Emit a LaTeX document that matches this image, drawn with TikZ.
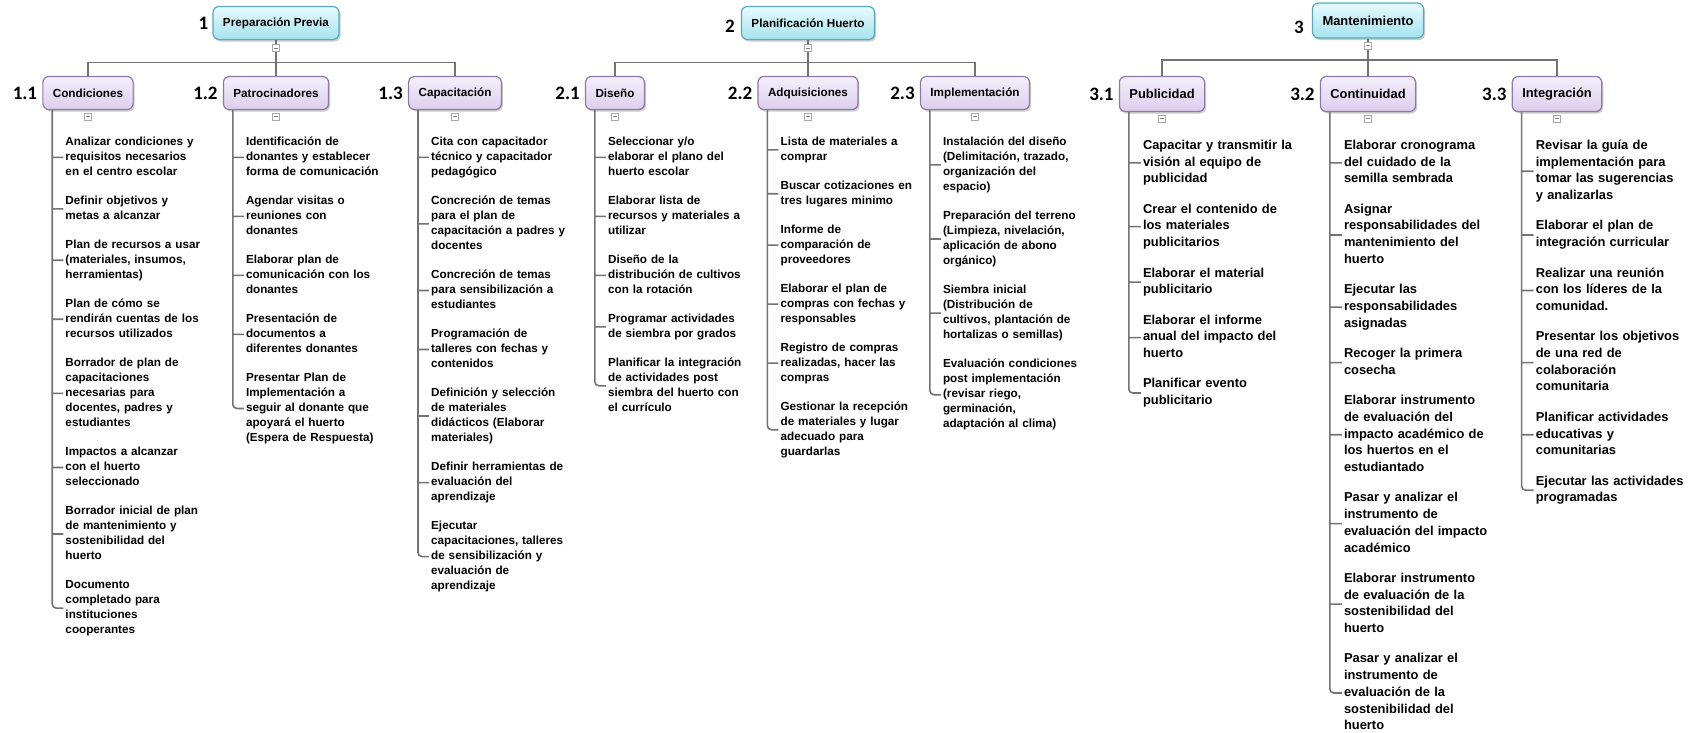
\documentclass[tikz,border=0pt]{standalone}
\usepackage{fontspec}
\setmainfont{Liberation Sans}
\newfontfamily\wbsnumfamily{Carlito}
\usetikzlibrary{positioning,shadows}
\usepackage{xcolor}

\definecolor{headtop}{HTML}{E6FAFD}
\definecolor{headbot}{HTML}{A6E4EF}
\definecolor{headline}{HTML}{5AAABA}
\definecolor{subtop}{HTML}{F5EFFB}
\definecolor{subbot}{HTML}{DCCEEE}
\definecolor{subline}{HTML}{8C7AA7}
\definecolor{linkgray}{HTML}{737373}

\newcommand\wbsbox{\fontsize{11.7}{14}\selectfont\bfseries}
\newcommand\wbsboxb{\fontsize{12.9}{15.5}\selectfont\bfseries}
\newcommand\wbsitem{\fontsize{11.7}{15.1}\selectfont\bfseries}
\newcommand\wbsitemb{\fontsize{12.9}{16.7}\selectfont\bfseries}
\newcommand\wbsnum{\wbsnumfamily\fontsize{19}{22}\selectfont\bfseries}

\begin{document}
\begin{tikzpicture}[
    x=1pt, y=-1pt,
    node distance=13.3pt,
    head/.style={
        draw=headline, line width=1.2pt, rounded corners=6pt,
        top color=headtop, bottom color=headbot, minimum height=33pt,
        inner xsep=10pt, font=\wbsbox,
        drop shadow={shadow xshift=1.5pt, shadow yshift=-2pt, fill=black!40}
    },
    sub/.style={head, draw=subline, top color=subtop, bottom color=subbot},
    subb/.style={sub, font=\wbsboxb, minimum height=35pt},
    item/.style={
        font=\wbsitem, text width=172pt, align=left,
        inner xsep=2pt, inner ysep=0pt,
        execute at begin node=\strut, execute at end node=\strut
    },
    itemb/.style={item, font=\wbsitemb},
    num/.style={font=\wbsnum, inner sep=0pt},
    toggle/.style={
        draw=gray!70, fill=white, minimum size=7pt, inner sep=0pt,
        path picture={\draw[gray] ([xshift=-2pt]path picture bounding box.center)
            -- ([xshift=2pt]path picture bounding box.center);}
    },
    link/.style={draw=linkgray, line width=1.6pt}
]
\useasboundingbox[fill=white] (0,0) rectangle (1689,732);

\node[head] (prep) at (276,23) {Preparación Previa};
\node[head] (plan) at (808,23) {Planificación Huerto};
\node[head, font=\wbsboxb, minimum height=35pt] (mant) at (1368,20.5) {Mantenimiento};
\node[num, left=4pt of prep] (nprep) {1};
\node[num, left=6pt of plan, yshift=-3pt] (nplan) {2};
\node[num, left=8pt of mant, yshift=-7pt] (nmant) {3};

\node[sub] (cond) at (88,93) {Condiciones};
\node[sub] (patr) at (276,93) {Patrocinadores};
\node[sub] (capa) at (455,93) {Capacitación};
\node[sub] (dise) at (615,93) {Diseño};
\node[sub] (adq) at (808,93) {Adquisiciones};
\node[sub] (impl) at (975,93) {Implementación};
\node[subb] (publ) at (1162,94) {Publicidad};
\node[subb] (cont) at (1368,94) {Continuidad};
\node[subb] (integ) at (1557,94) {Integración};
\node[num, left=5pt of cond] (ncond) {1.1};
\node[num, left=5pt of patr] (npatr) {1.2};
\node[num, left=5pt of capa] (ncapa) {1.3};
\node[num, left=5pt of dise] (ndise) {2.1};
\node[num, left=5pt of adq] (nadq) {2.2};
\node[num, left=5pt of impl] (nimpl) {2.3};
\node[num, left=5pt of publ] (npubl) {3.1};
\node[num, left=5pt of cont] (ncont) {3.2};
\node[num, left=5pt of integ] (ninteg) {3.3};

\node[item, anchor=north west] (cond1) at ([xshift=21pt, yshift=-24.4pt]cond.south west)
    {Analizar condiciones y\\requisitos necesarios\\en el centro escolar};
\node[item, below=of cond1] (cond2) {Definir objetivos y\\metas a alcanzar};
\node[item, below=of cond2] (cond3) {Plan de recursos a usar\\(materiales, insumos,\\herramientas)};
\node[item, below=of cond3] (cond4) {Plan de cómo se\\rendirán cuentas de los\\recursos utilizados};
\node[item, below=of cond4] (cond5) {Borrador de plan de\\capacitaciones\\necesarias para\\docentes, padres y\\estudiantes};
\node[item, below=of cond5] (cond6) {Impactos a alcanzar\\con el huerto\\seleccionado};
\node[item, below=of cond6] (cond7) {Borrador inicial de plan\\de mantenimiento y\\sostenibilidad del\\huerto};
\node[item, below=of cond7] (cond8) {Documento\\completado para\\instituciones\\cooperantes};

\node[item, anchor=north west] (patr1) at ([xshift=21pt, yshift=-24.4pt]patr.south west)
    {Identificación de\\donantes y establecer\\forma de comunicación};
\node[item, below=of patr1] (patr2) {Agendar visitas o\\reuniones con\\donantes};
\node[item, below=of patr2] (patr3) {Elaborar plan de\\comunicación con los\\donantes};
\node[item, below=of patr3] (patr4) {Presentación de\\documentos a\\diferentes donantes};
\node[item, below=of patr4] (patr5) {Presentar Plan de\\Implementación a\\seguir al donante que\\apoyará el huerto\\(Espera de Respuesta)};

\node[item, anchor=north west] (capa1) at ([xshift=21pt, yshift=-24.4pt]capa.south west)
    {Cita con capacitador\\técnico y capacitador\\pedagógico};
\node[item, below=of capa1] (capa2) {Concreción de temas\\para el plan de\\capacitación a padres y\\docentes};
\node[item, below=of capa2] (capa3) {Concreción de temas\\para sensibilización a\\estudiantes};
\node[item, below=of capa3] (capa4) {Programación de\\talleres con fechas y\\contenidos};
\node[item, below=of capa4] (capa5) {Definición y selección\\de materiales\\didácticos (Elaborar\\materiales)};
\node[item, below=of capa5] (capa6) {Definir herramientas de\\evaluación del\\aprendizaje};
\node[item, below=of capa6] (capa7) {Ejecutar\\capacitaciones, talleres\\de sensibilización y\\evaluación de\\aprendizaje};

\node[item, anchor=north west] (dise1) at ([xshift=21pt, yshift=-24.4pt]dise.south west)
    {Seleccionar y/o\\elaborar el plano del\\huerto escolar};
\node[item, below=of dise1] (dise2) {Elaborar lista de\\recursos y materiales a\\utilizar};
\node[item, below=of dise2] (dise3) {Diseño de la\\distribución de cultivos\\con la rotación};
\node[item, below=of dise3] (dise4) {Programar actividades\\de siembra por grados};
\node[item, below=of dise4] (dise5) {Planificar la integración\\de actividades post\\siembra del huerto con\\el currículo};

\node[item, anchor=north west] (adq1) at ([xshift=21pt, yshift=-24.4pt]adq.south west)
    {Lista de materiales a\\comprar};
\node[item, below=of adq1] (adq2) {Buscar cotizaciones en\\tres lugares minimo};
\node[item, below=of adq2] (adq3) {Informe de\\comparación de\\proveedores};
\node[item, below=of adq3] (adq4) {Elaborar el plan de\\compras con fechas y\\responsables};
\node[item, below=of adq4] (adq5) {Registro de compras\\realizadas, hacer las\\compras};
\node[item, below=of adq5] (adq6) {Gestionar la recepción\\de materiales y lugar\\adecuado para\\guardarlas};

\node[item, anchor=north west] (impl1) at ([xshift=21pt, yshift=-24.4pt]impl.south west)
    {Instalación del diseño\\(Delimitación, trazado,\\organización del\\espacio)};
\node[item, below=of impl1] (impl2) {Preparación del terreno\\(Limpieza, nivelación,\\aplicación de abono\\orgánico)};
\node[item, below=of impl2] (impl3) {Siembra inicial\\(Distribución de\\cultivos, plantación de\\hortalizas o semillas)};
\node[item, below=of impl3] (impl4) {Evaluación condiciones\\post implementación\\(revisar riego,\\germinación,\\adaptación al clima)};

\node[itemb, anchor=north west] (publ1) at ([xshift=22pt, yshift=-25.5pt]publ.south west)
    {Capacitar y transmitir la\\visión al equipo de\\publicidad};
\node[itemb, below=of publ1] (publ2) {Crear el contenido de\\los materiales\\publicitarios};
\node[itemb, below=of publ2] (publ3) {Elaborar el material\\publicitario};
\node[itemb, below=of publ3] (publ4) {Elaborar el informe\\anual del impacto del\\huerto};
\node[itemb, below=of publ4] (publ5) {Planificar evento\\publicitario};

\node[itemb, anchor=north west] (cont1) at ([xshift=22pt, yshift=-25.5pt]cont.south west)
    {Elaborar cronograma\\del cuidado de la\\semilla sembrada};
\node[itemb, below=of cont1] (cont2) {Asignar\\responsabilidades del\\mantenimiento del\\huerto};
\node[itemb, below=of cont2] (cont3) {Ejecutar las\\responsabilidades\\asignadas};
\node[itemb, below=of cont3] (cont4) {Recoger la primera\\cosecha};
\node[itemb, below=of cont4] (cont5) {Elaborar instrumento\\de evaluación del\\impacto académico de\\los huertos en el\\estudiantado};
\node[itemb, below=of cont5] (cont6) {Pasar y analizar el\\instrumento de\\evaluación del impacto\\académico};
\node[itemb, below=of cont6] (cont7) {Elaborar instrumento\\de evaluación de la\\sostenibilidad del\\huerto};
\node[itemb, below=of cont7] (cont8) {Pasar y analizar el\\instrumento de\\evaluación de la\\sostenibilidad del\\huerto};

\node[itemb, anchor=north west] (integ1) at ([xshift=22pt, yshift=-25.5pt]integ.south west)
    {Revisar la guía de\\implementación para\\tomar las sugerencias\\y analizarlas};
\node[itemb, below=of integ1] (integ2) {Elaborar el plan de\\integración curricular};
\node[itemb, below=of integ2] (integ3) {Realizar una reunión\\con los líderes de la\\comunidad.};
\node[itemb, below=of integ3] (integ4) {Presentar los objetivos\\de una red de\\colaboración\\comunitaria};
\node[itemb, below=of integ4] (integ5) {Planificar actividades\\educativas y\\comunitarias};
\node[itemb, below=of integ5] (integ6) {Ejecutar las actividades\\programadas};

\coordinate (bar1) at (276,62.5);
\coordinate (bar2) at (808,62.5);
\coordinate (bar3) at (1368,60);
\draw[link] (prep) -- (patr);
\draw[link] (cond) |- (bar1) -| (capa);
\draw[link] (plan) -- (adq);
\draw[link] (dise) |- (bar2) -| (impl);
\draw[link] (mant) -- (cont);
\draw[link] (publ) |- (bar3) -| (integ);

\coordinate (cond0) at ([xshift=10pt]cond.south west);
\coordinate (patr0) at ([xshift=10pt]patr.south west);
\coordinate (capa0) at ([xshift=10pt]capa.south west);
\coordinate (dise0) at ([xshift=10pt]dise.south west);
\coordinate (adq0) at ([xshift=10pt]adq.south west);
\coordinate (impl0) at ([xshift=10pt]impl.south west);
\coordinate (publ0) at ([xshift=10pt]publ.south west);
\coordinate (cont0) at ([xshift=10pt]cont.south west);
\coordinate (integ0) at ([xshift=10pt]integ.south west);

\draw[link] (cond0) |- (cond1) (cond0) |- (cond2) (cond0) |- (cond3) (cond0) |- (cond4)
    (cond0) |- (cond5) (cond0) |- (cond6) (cond0) |- (cond7)
    [rounded corners=4pt] (cond0) |- (cond8);
\draw[link] (patr0) |- (patr1) (patr0) |- (patr2) (patr0) |- (patr3) (patr0) |- (patr4)
    [rounded corners=4pt] (patr0) |- (patr5);
\draw[link] (capa0) |- (capa1) (capa0) |- (capa2) (capa0) |- (capa3) (capa0) |- (capa4)
    (capa0) |- (capa5) (capa0) |- (capa6)
    [rounded corners=4pt] (capa0) |- (capa7);
\draw[link] (dise0) |- (dise1) (dise0) |- (dise2) (dise0) |- (dise3) (dise0) |- (dise4)
    [rounded corners=4pt] (dise0) |- (dise5);
\draw[link] (adq0) |- (adq1) (adq0) |- (adq2) (adq0) |- (adq3) (adq0) |- (adq4)
    (adq0) |- (adq5)
    [rounded corners=4pt] (adq0) |- (adq6);
\draw[link] (impl0) |- (impl1) (impl0) |- (impl2) (impl0) |- (impl3)
    [rounded corners=4pt] (impl0) |- (impl4);
\draw[link] (publ0) |- (publ1) (publ0) |- (publ2) (publ0) |- (publ3) (publ0) |- (publ4)
    [rounded corners=4pt] (publ0) |- (publ5);
\draw[link] (cont0) |- (cont1) (cont0) |- (cont2) (cont0) |- (cont3) (cont0) |- (cont4)
    (cont0) |- (cont5) (cont0) |- (cont6) (cont0) |- (cont7)
    [rounded corners=4pt] (cont0) |- (cont8);
\draw[link] (integ0) |- (integ1) (integ0) |- (integ2) (integ0) |- (integ3)
    (integ0) |- (integ4) (integ0) |- (integ5)
    [rounded corners=4pt] (integ0) |- (integ6);

\node[toggle, below=4pt of prep] (tprep) {};
\node[toggle, below=4pt of plan] (tplan) {};
\node[toggle, below=3pt of mant] (tmant) {};
\node[toggle, below=2.5pt of cond] (tcond) {};
\node[toggle, below=2.5pt of patr] (tpatr) {};
\node[toggle, below=2.5pt of capa] (tcapa) {};
\node[toggle, below=2.5pt of dise] (tdise) {};
\node[toggle, below=2.5pt of adq] (tadq) {};
\node[toggle, below=2.5pt of impl] (timpl) {};
\node[toggle, below=2.5pt of publ] (tpubl) {};
\node[toggle, below=2.5pt of cont] (tcont) {};
\node[toggle, below=2.5pt of integ] (tinteg) {};
\end{tikzpicture}
\end{document}
